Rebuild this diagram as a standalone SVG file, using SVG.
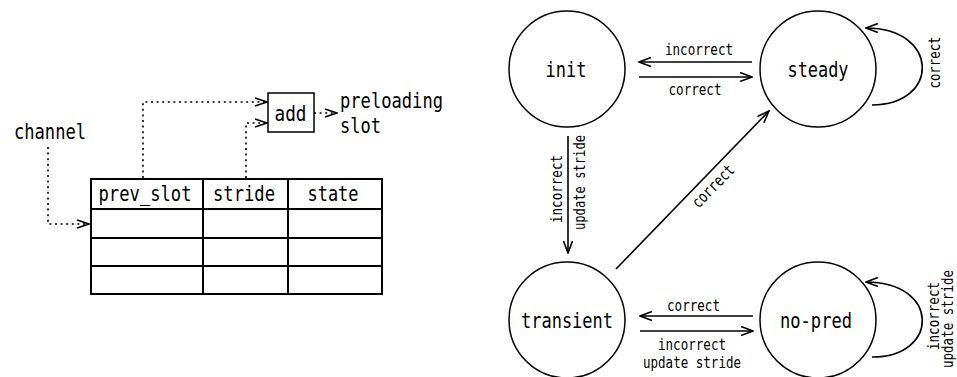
<svg xmlns="http://www.w3.org/2000/svg" width="957" height="377" viewBox="0 0 957 377">
  <defs>
    <style>
      text { font-family: "DejaVu Sans Mono", "Liberation Mono", monospace; fill: #000; }
      .big { font-size: 22px; }
      .lbl { font-size: 16px; }
      .mid { text-anchor: middle; }
      .state { fill: #fff; stroke: #000; stroke-width: 1.5; }
      .edge { fill: none; stroke: #000; stroke-width: 1.6; marker-end: url(#open); }
      .dot { fill: none; stroke: #000; stroke-width: 1.6; stroke-dasharray: 2 3.6; }
      .grid { fill: none; stroke: #000; stroke-width: 2; }
      .box { fill: #fff; stroke: #000; stroke-width: 1.5; }
    </style>
    <!-- open chevron used by the state-machine edges -->
    <marker id="open" viewBox="0 0 14 10" refX="13" refY="5" markerWidth="14" markerHeight="10" markerUnits="userSpaceOnUse" orient="auto">
      <path d="M1,0.5 L13,5 L1,9.5" fill="none" stroke="#000" stroke-width="1.6"/>
    </marker>
    <!-- chevron for the dotted data-flow lines -->
    <marker id="chev" viewBox="0 0 14 10" refX="13" refY="5" markerWidth="14" markerHeight="10" markerUnits="userSpaceOnUse" orient="auto">
      <path d="M1,1 L13,5 L1,9" fill="none" stroke="#000" stroke-width="1.5"/>
    </marker>
  </defs>

  <rect width="957" height="377" fill="#fff"/>

  <!-- ===== prediction table ===== -->
  <g id="channel">
    <text class="big" x="14" y="139" textLength="72" lengthAdjust="spacingAndGlyphs">channel</text>
  </g>

  <g id="table">
    <rect class="grid" x="91" y="179" width="291" height="115"/>
    <path class="grid" d="M91,209 H382 M91,238 H382 M91,266 H382 M203,179 V294 M288,179 V294"/>
    <text class="big mid" x="145" y="201" textLength="93" lengthAdjust="spacingAndGlyphs">prev_slot</text>
    <text class="big mid" x="244" y="201" textLength="62" lengthAdjust="spacingAndGlyphs">stride</text>
    <text class="big mid" x="333" y="201" textLength="51" lengthAdjust="spacingAndGlyphs">state</text>
  </g>

  <g id="add">
    <rect class="box" x="268" y="93" width="46" height="39"/>
    <text class="big mid" x="290.5" y="121" textLength="32" lengthAdjust="spacingAndGlyphs">add</text>
  </g>

  <g id="preloading">
    <text class="big" x="340" y="108" textLength="103" lengthAdjust="spacingAndGlyphs">preloading</text>
    <text class="big" x="340" y="133" textLength="41" lengthAdjust="spacingAndGlyphs">slot</text>
  </g>

  <g id="dataflow">
    <path class="dot" d="M48,147 V224 H89" marker-end="url(#chev)"/>
    <path class="dot" d="M143,178 V102 H267" marker-end="url(#chev)"/>
    <path class="dot" d="M246,178 V123 H267" marker-end="url(#chev)"/>
    <path class="dot" d="M314,113 H337" marker-end="url(#chev)"/>
  </g>

  <!-- ===== stride predictor state machine ===== -->
  <g id="init">
    <circle class="state" cx="567" cy="69" r="58"/>
    <text class="big mid" x="566" y="77" textLength="41" lengthAdjust="spacingAndGlyphs">init</text>
  </g>
  <g id="steady">
    <circle class="state" cx="818" cy="69" r="58"/>
    <text class="big mid" x="818" y="77" textLength="61" lengthAdjust="spacingAndGlyphs">steady</text>
  </g>
  <g id="transient">
    <circle class="state" cx="567" cy="320" r="58"/>
    <text class="big mid" x="567" y="327.5" textLength="92" lengthAdjust="spacingAndGlyphs">transient</text>
  </g>
  <g id="no-pred">
    <circle class="state" cx="818" cy="320" r="58"/>
    <text class="big mid" x="816" y="327.5" textLength="72" lengthAdjust="spacingAndGlyphs">no-pred</text>
  </g>

  <g id="transitions">
    <path class="edge" d="M752,62 H639"/>
    <path class="edge" d="M639,77 H752"/>
    <path class="edge" d="M568,136 V253"/>
    <path class="edge" d="M616,269 L769,111"/>
    <path class="edge" d="M872,105 C940,105 940,28 866,28"/>
    <path class="edge" d="M753,316 H640"/>
    <path class="edge" d="M640,331 H753"/>
    <path class="edge" d="M872,357 C940,357 940,282 866,282"/>

    <text class="lbl mid" x="699" y="55" textLength="68" lengthAdjust="spacingAndGlyphs">incorrect</text>
    <text class="lbl mid" x="695" y="95" textLength="53" lengthAdjust="spacingAndGlyphs">correct</text>

    <text class="lbl mid" transform="translate(562,189) rotate(-90)" textLength="68" lengthAdjust="spacingAndGlyphs">incorrect</text>
    <text class="lbl mid" transform="translate(585,182.5) rotate(-90)" textLength="95" lengthAdjust="spacingAndGlyphs">update stride</text>

    <text class="lbl mid" transform="translate(717,190) rotate(-46)" textLength="53" lengthAdjust="spacingAndGlyphs">correct</text>

    <text class="lbl mid" transform="translate(940,62.5) rotate(-90)" textLength="52" lengthAdjust="spacingAndGlyphs">correct</text>

    <text class="lbl mid" x="693.5" y="311" textLength="53" lengthAdjust="spacingAndGlyphs">correct</text>
    <text class="lbl mid" x="692" y="350" textLength="68" lengthAdjust="spacingAndGlyphs">incorrect</text>
    <text class="lbl mid" x="692" y="368" textLength="98" lengthAdjust="spacingAndGlyphs">update stride</text>

    <text class="lbl mid" transform="translate(938.5,316) rotate(-90)" textLength="68" lengthAdjust="spacingAndGlyphs">incorrect</text>
    <text class="lbl mid" transform="translate(952.5,319) rotate(-90)" textLength="98" lengthAdjust="spacingAndGlyphs">update stride</text>
  </g>
</svg>
